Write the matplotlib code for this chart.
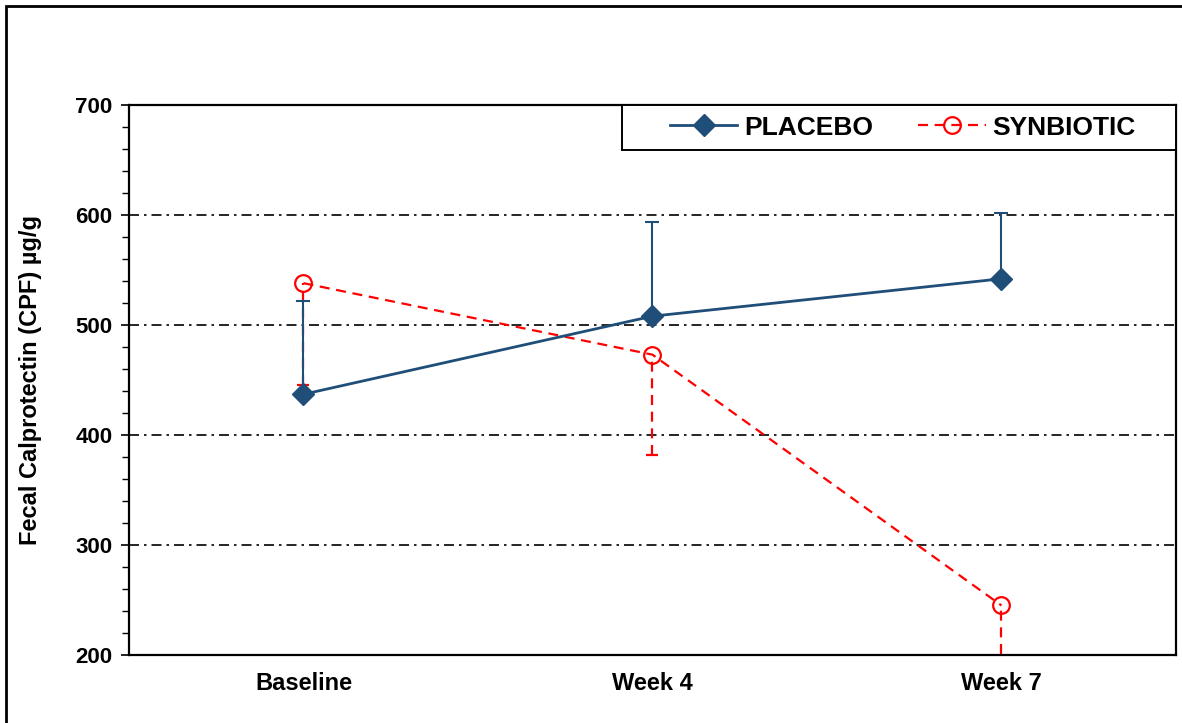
import matplotlib.pyplot as plt
from matplotlib.patches import Rectangle
from matplotlib.ticker import MultipleLocator

plt.rcParams['font.family'] = ['Liberation Sans', 'DejaVu Sans']
plt.rcParams['font.weight'] = 'bold'

# Fecal calprotectin means with one-sided SD bars
timepoints = ['Baseline', 'Week 4', 'Week 7']
placebo = [437, 508, 542]
placebo_sd = [85, 86, 60]
synbiotic = [538, 473, 245]
synbiotic_sd = [93, 91, 90]

fig = plt.figure(figsize=(11.82, 7.23), dpi=100)
ax = fig.add_axes([0.1091, 0.0941, 0.8858, 0.7607])

x = list(range(len(timepoints)))
blue = '#1F4E79'
red = '#FF0000'
dash = (0, (4.5, 3))

# placebo: solid line, diamonds, SD drawn upwards
pl = ax.errorbar(x, placebo, yerr=[[0, 0, 0], placebo_sd], color=blue, lw=2,
                 marker='D', ms=11, mfc=blue, mec=blue, capsize=5, elinewidth=1.5,
                 capthick=1.5, zorder=4)
pl[1][0].set_visible(False)  # no cap on the zero-length side

# synbiotic: dashed line, open circles, SD drawn downwards
sy = ax.errorbar(x, synbiotic, yerr=[synbiotic_sd, [0, 0, 0]], color=red, lw=1.6,
                 ls=dash, marker='o', ms=12, mfc='none', mec=red, mew=1.6,
                 capsize=4, elinewidth=1.6, capthick=1.6, zorder=3)
sy[1][1].set_visible(False)
for c in sy[2]:
    c.set_linestyle(dash)

ax.set_xlim(-0.5, 2.5)
ax.set_ylim(200, 700)
ax.set_xticks(x)
ax.set_xticklabels(timepoints, fontsize=17, fontweight='bold')
ax.tick_params(axis='x', length=0, pad=12)
ax.yaxis.set_major_locator(MultipleLocator(100))
ax.yaxis.set_minor_locator(MultipleLocator(20))
ax.tick_params(axis='y', which='major', length=6, width=1.2, labelsize=16, pad=6)
ax.tick_params(axis='y', which='minor', length=5, width=1)
for lbl in ax.get_yticklabels():
    lbl.set_fontweight('bold')

ax.grid(axis='y', which='major', color='black', lw=1.2, ls=(0, (6, 3, 1.5, 3)))
for s in ax.spines.values():
    s.set_linewidth(1.6)
    s.set_color('black')

ax.set_ylabel('Fecal Calprotectin (CPF) µg/g', fontsize=17, fontweight='bold')
ax.yaxis.set_label_coords(-0.083, 0.5)

# legend box spans the right half of the top edge; entries sit inside it
ax.add_patch(Rectangle((0.4709, 0.918), 0.5291, 0.082, transform=ax.transAxes,
                       facecolor='white', edgecolor='black', lw=1.4,
                       clip_on=False, zorder=5))
leg = ax.legend([pl[0], sy[0]], ['PLACEBO', 'SYNBIOTIC'], loc='center left',
                bbox_to_anchor=(0.5167, 0.959), ncol=2, frameon=False,
                borderaxespad=0, borderpad=0, handlelength=2.55,
                handletextpad=0.27, columnspacing=1.7,
                prop={'weight': 'bold', 'size': 19})
leg.set_zorder(6)

# outer frame around the whole chart
fig.patches.append(Rectangle((6 / 1182, -0.05), 1.2, 1 - 6 / 723 + 0.05,
                             transform=fig.transFigure, fill=False,
                             edgecolor='black', lw=2, zorder=10))

fig.savefig('out.png', dpi=100)
